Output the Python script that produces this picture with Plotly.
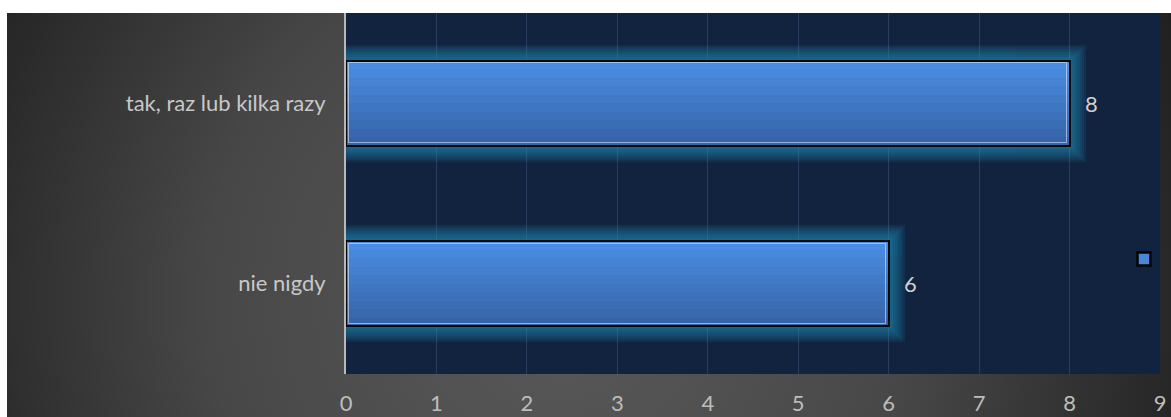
import base64
import plotly.graph_objects as go

# ---- data ----
categories = ["nie nigdy", "tak, raz lub kilka razy"]
values = [6, 8]
x_ticks = list(range(0, 10))

# ---- geometry helpers (figure pixels) ----
W, H = 1171, 417
L, R, T, B = 346, 11, 13, 43
pw, ph = W - L - R, H - T - B
px_per_x = pw / 9.0
px_per_cat = ph / 2.0
bar_w = 0.47

fig = go.Figure()

# glow behind bars
for pad in [16, 14, 12, 10, 8, 6, 4, 2]:
    dx = pad / px_per_x
    dy = pad / px_per_cat
    fig.add_trace(go.Bar(
        y=categories, x=[v + 2 * dx for v in values], base=[-dx] * len(values),
        orientation="h", width=bar_w + 2 * dy,
        marker=dict(color="#1e8cb8", line=dict(width=0)), opacity=0.12,
        showlegend=False, hoverinfo="skip"))

# main bar
fig.add_trace(go.Bar(
    y=categories, x=values, orientation="h", width=bar_w, name="",
    marker=dict(color="#4079c8", line=dict(color="#0a0a0a", width=2)),
    showlegend=False, hoverinfo="x+y"))

# vertical gradient strips
N = 10
top = (0x4a, 0x8c, 0xe2)
bot = (0x37, 0x64, 0xa8)
for k in range(N):
    t = k / (N - 1)
    c = tuple(round(bot[i] + (top[i] - bot[i]) * t) for i in range(3))
    fig.add_trace(go.Bar(
        y=categories, x=values, orientation="h", width=bar_w / N + 0.002,
        offset=-bar_w / 2 + k * bar_w / N,
        marker=dict(color="rgb(%d,%d,%d)" % c, line=dict(width=0)),
        showlegend=False, hoverinfo="skip"))

# outline
fig.add_trace(go.Bar(
    y=categories, x=values, orientation="h", width=bar_w,
    marker=dict(color="rgba(0,0,0,0)", line=dict(color="#0a0a0a", width=2)),
    showlegend=False, hoverinfo="skip"))
# inner highlight
hx = 2.5 / px_per_x
hy = 2.5 / px_per_cat
fig.add_trace(go.Bar(
    y=categories, x=[v - 2 * hx for v in values], base=[hx] * len(values),
    orientation="h", width=bar_w - 2 * hy,
    marker=dict(color="rgba(0,0,0,0)", line=dict(color="rgba(235,240,255,0.55)", width=1)),
    showlegend=False, hoverinfo="skip"))

# legend entry for the series (marker only, unnamed)
fig.add_trace(go.Scatter(
    x=[None], y=[None], mode="markers", name="", showlegend=True,
    marker=dict(symbol="square", size=13, color="#4a86d8",
                line=dict(color="#050505", width=2.5))))

# value labels
for c, v in zip(categories, values):
    fig.add_annotation(x=v, y=c, text=str(v), showarrow=False, xanchor="left",
                       xshift=13, font=dict(color="#d0d0d0", size=22, family="Lato"))

# background gradient
svg = ('<svg xmlns="http://www.w3.org/2000/svg" width="1164" height="404">'
       '<defs><radialGradient id="g" gradientUnits="userSpaceOnUse" cx="553" cy="287" r="680">'
       '<stop offset="0" stop-color="#5a5a5a"/><stop offset="0.52" stop-color="#474747"/>'
       '<stop offset="1" stop-color="#1f1f1f"/></radialGradient></defs>'
       '<rect width="1164" height="404" fill="url(#g)"/></svg>')
src = "data:image/svg+xml;base64," + base64.b64encode(svg.encode()).decode()
fig.add_layout_image(dict(
    source=src, xref="paper", yref="paper",
    x=(7 - L) / pw, y=1.0, sizex=1164 / pw, sizey=404 / ph,
    xanchor="left", yanchor="top", sizing="stretch", layer="below"))
# plot area
fig.add_shape(type="rect", xref="paper", yref="paper", x0=0, x1=1, y0=0, y1=1,
              fillcolor="#11233f", line=dict(width=0), layer="below")

fig.update_layout(
    width=W, height=H,
    margin=dict(l=L, r=R, t=T, b=B, pad=0, autoexpand=False),
    paper_bgcolor="white", plot_bgcolor="rgba(0,0,0,0)",
    barmode="overlay", bargap=0,
    font=dict(family="Lato", color="#c8c8c8", size=22),
    showlegend=True,
    legend=dict(x=(1124 - L) / pw, y=(H - B - 259) / ph, xanchor="left", yanchor="middle",
                bgcolor="rgba(0,0,0,0)", borderwidth=0, font=dict(size=12, color="#c8c8c8")),
    xaxis=dict(range=[0, 9], tickvals=x_ticks, ticktext=[str(t) for t in x_ticks],
               showgrid=True, gridcolor="#2a3f5f", gridwidth=1, zeroline=False,
               showline=False, ticks="", ticklabelstandoff=14,
               tickfont=dict(size=22, color="#bdbdbd", family="Lato")),
    yaxis=dict(categoryorder="array", categoryarray=categories, showgrid=False,
               showline=True, linecolor="#b8b8b8", linewidth=2, ticks="",
               ticklabelstandoff=14, tickfont=dict(size=22, color="#c8c8c8", family="Lato")),
)

fig.write_html("out.html", config={"displayModeBar": False},
               post_script="document.body.style.margin='0';document.body.style.overflow='hidden';")
